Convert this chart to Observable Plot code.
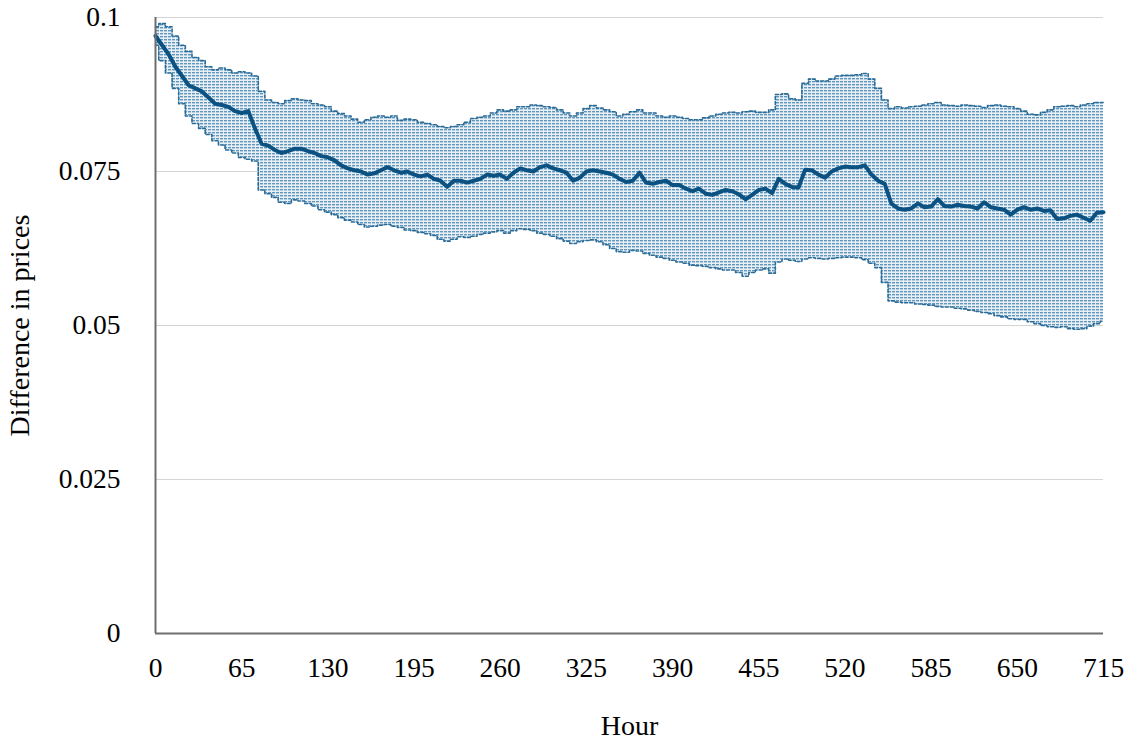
<!DOCTYPE html>
<html>
<head>
<meta charset="utf-8">
<script src="https://cdn.jsdelivr.net/npm/d3@7"></script>
<script src="https://cdn.jsdelivr.net/npm/@observablehq/plot@0.6"></script>
<style>
  html, body { margin: 0; padding: 0; background: #fff; }
</style>
</head>
<body>
<div id="chart"></div>
<script>
// Hours sampled every 5 hours
const hours = d3.range(0, 716, 5);

const meanDiff = [
0.0970,0.0955,0.0940,0.0920,0.0905,0.0890,0.0885,0.0880,0.0870,0.0860,
0.0858,0.0855,0.0848,0.0845,0.0848,0.0820,0.0795,0.0792,0.0785,0.0780,
0.0783,0.0787,0.0787,0.0783,0.0780,0.0775,0.0773,0.0768,0.0760,0.0755,
0.0752,0.0750,0.0745,0.0747,0.0752,0.0757,0.0752,0.0748,0.0750,0.0745,
0.0742,0.0745,0.0738,0.0735,0.0725,0.0735,0.0735,0.0732,0.0735,0.0738,
0.0745,0.0743,0.0745,0.0738,0.0748,0.0755,0.0752,0.0750,0.0757,0.0760,
0.0755,0.0752,0.0748,0.0735,0.0740,0.0750,0.0752,0.0750,0.0748,0.0745,
0.0738,0.0733,0.0735,0.0748,0.0732,0.0730,0.0733,0.0735,0.0728,0.0728,
0.0722,0.0718,0.0722,0.0714,0.0712,0.0716,0.0720,0.0718,0.0713,0.0705,
0.0712,0.0720,0.0722,0.0715,0.0738,0.0730,0.0725,0.0724,0.0753,0.0752,
0.0745,0.0740,0.0750,0.0755,0.0758,0.0757,0.0757,0.0760,0.0745,0.0735,
0.0730,0.0698,0.0690,0.0688,0.0690,0.0698,0.0692,0.0693,0.0705,0.0694,
0.0693,0.0696,0.0694,0.0693,0.0690,0.0700,0.0692,0.0690,0.0688,0.0680,
0.0688,0.0692,0.0688,0.0690,0.0686,0.0687,0.0673,0.0674,0.0678,0.0680,
0.0675,0.0670,0.0683,0.0684
];

const upperDiff = [
0.0985,0.0990,0.0985,0.0970,0.0955,0.0945,0.0935,0.0930,0.0920,0.0915,
0.0918,0.0915,0.0910,0.0912,0.0910,0.0905,0.0880,0.0866,0.0862,0.0860,
0.0865,0.0868,0.0866,0.0865,0.0860,0.0858,0.0855,0.0848,0.0844,0.0840,
0.0835,0.0830,0.0834,0.0838,0.0840,0.0838,0.0840,0.0833,0.0835,0.0834,
0.0830,0.0828,0.0826,0.0823,0.0821,0.0823,0.0826,0.0830,0.0836,0.0838,
0.0840,0.0845,0.0850,0.0848,0.0850,0.0855,0.0855,0.0858,0.0857,0.0855,
0.0854,0.0850,0.0845,0.0840,0.0845,0.0852,0.0857,0.0853,0.0850,0.0847,
0.0840,0.0843,0.0847,0.0850,0.0845,0.0845,0.0840,0.0838,0.0840,0.0838,
0.0836,0.0834,0.0834,0.0837,0.0840,0.0843,0.0845,0.0846,0.0845,0.0847,
0.0848,0.0846,0.0846,0.0850,0.0875,0.0876,0.0868,0.0866,0.0893,0.0900,
0.0897,0.0897,0.0900,0.0905,0.0906,0.0906,0.0907,0.0909,0.0900,0.0885,
0.0866,0.0852,0.0855,0.0853,0.0855,0.0856,0.0858,0.0860,0.0862,0.0858,
0.0857,0.0856,0.0858,0.0857,0.0856,0.0854,0.0857,0.0858,0.0856,0.0855,
0.0852,0.0848,0.0843,0.0842,0.0846,0.0850,0.0855,0.0856,0.0857,0.0855,
0.0858,0.0860,0.0862,0.0862
];

const lowerDiff = [
0.0955,0.0930,0.0910,0.0885,0.0860,0.0840,0.0828,0.0820,0.0810,0.0800,
0.0793,0.0785,0.0780,0.0773,0.0770,0.0767,0.0720,0.0714,0.0708,0.0700,
0.0698,0.0704,0.0702,0.0698,0.0694,0.0688,0.0684,0.0680,0.0675,0.0671,
0.0668,0.0664,0.0660,0.0661,0.0663,0.0664,0.0661,0.0659,0.0655,0.0654,
0.0651,0.0649,0.0646,0.0640,0.0637,0.0640,0.0644,0.0643,0.0645,0.0648,
0.0650,0.0652,0.0654,0.0650,0.0654,0.0657,0.0656,0.0654,0.0650,0.0648,
0.0645,0.0641,0.0637,0.0633,0.0636,0.0638,0.0639,0.0636,0.0631,0.0625,
0.0620,0.0619,0.0622,0.0621,0.0617,0.0614,0.0611,0.0609,0.0606,0.0603,
0.0601,0.0598,0.0597,0.0596,0.0594,0.0592,0.0590,0.0590,0.0586,0.0580,
0.0586,0.0590,0.0592,0.0585,0.0603,0.0608,0.0606,0.0604,0.0608,0.0610,
0.0609,0.0608,0.0609,0.0610,0.0611,0.0611,0.0610,0.0607,0.0601,0.0594,
0.0570,0.0540,0.0538,0.0537,0.0537,0.0535,0.0534,0.0533,0.0531,0.0530,
0.0530,0.0528,0.0527,0.0525,0.0523,0.0521,0.0519,0.0516,0.0514,0.0511,
0.0510,0.0510,0.0506,0.0503,0.0500,0.0498,0.0497,0.0498,0.0495,0.0494,
0.0495,0.0499,0.0503,0.0507
];

const xTicks = [0, 65, 130, 195, 260, 325, 390, 455, 520, 585, 650, 715];
const yTicks = [0, 0.025, 0.05, 0.075, 0.1];

const data = hours.map((h, i) => ({h, mean: meanDiff[i], hi: upperDiff[i], lo: lowerDiff[i]}));

const chart = Plot.plot({
  width: 1125,
  height: 742,
  marginTop: 17,
  marginLeft: 155,
  marginRight: 22,
  marginBottom: 109,
  style: {fontFamily: "'Liberation Serif', 'DejaVu Serif', serif", fontSize: "26px", background: "#fff", color: "#000"},
  x: {domain: [0, 715]},
  y: {domain: [0, 0.1]},
  marks: [
    Plot.ruleY(yTicks, {stroke: "#d4d4d4", strokeWidth: 1}),
    Plot.areaY(data, {x: "h", y1: "lo", y2: "hi", fill: "url(#ebHatch)", curve: "step"}),
    Plot.line(data, {x: "h", y: "hi", stroke: "#2a6b98", strokeWidth: 1.6, strokeDasharray: "3,2", curve: "step"}),
    Plot.line(data, {x: "h", y: "lo", stroke: "#2a6b98", strokeWidth: 1.6, strokeDasharray: "3,2", curve: "step"}),
    Plot.line(data, {x: "h", y: "mean", stroke: "#0b5282", strokeWidth: 4, strokeLinejoin: "round"}),
    Plot.ruleX([0], {stroke: "#6e6e6e", strokeWidth: 2}),
    Plot.ruleY([0], {stroke: "#6e6e6e", strokeWidth: 2}),
    Plot.axisX({ticks: xTicks, tickSize: 0, tickPadding: 24, fontSize: 27.5, label: null}),
    Plot.axisX({ticks: [], label: "Hour", labelArrow: "none", labelAnchor: "center", labelOffset: 101, fontSize: 28}),
    Plot.axisY({ticks: yTicks, tickSize: 0, tickPadding: 35, fontSize: 27.5, tickFormat: d => d === 0 ? "0" : String(d), label: null}),
    Plot.axisY({ticks: [], label: "Difference in prices", labelArrow: "none", labelAnchor: "center", labelOffset: 146, fontSize: 28})
  ]
});

// hatch pattern used by the error band
const ns = "http://www.w3.org/2000/svg";
const defs = document.createElementNS(ns, "defs");
defs.innerHTML = `<pattern id="ebHatch" patternUnits="userSpaceOnUse" width="4" height="3">
  <rect x="0" y="0" width="4" height="3" fill="#e8f0f6"/>
  <rect x="0" y="0" width="3" height="1" fill="#5f96bd"/>
  <rect x="0" y="1" width="3" height="1" fill="#b3cde0"/>
</pattern>`;
chart.insertBefore(defs, chart.firstChild);

document.getElementById("chart").appendChild(chart);
</script>
</body>
</html>
